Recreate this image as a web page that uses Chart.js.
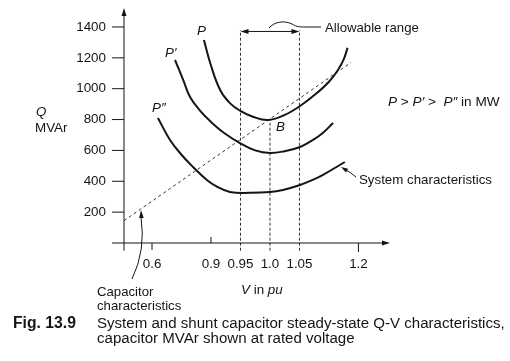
<!DOCTYPE html>
<html>
<head>
<meta charset="utf-8">
<script src="https://cdn.jsdelivr.net/npm/chart.js@4.4.0/dist/chart.umd.min.js"></script>
<style>
  html, body { margin: 0; padding: 0; background: #fff; overflow: hidden; }
  canvas { display: block; }
</style>
</head>
<body>
<canvas id="qv" width="510" height="361"></canvas>
<script>
// V axis is not linear in the figure: 0.6 sits at 0, then one step per 0.05 from 0.9 up
const tickPos = [0, 2, 3, 4, 5, 7];
const tickLabels = ["0.6", "0.9", "0.95", "1.0", "1.05", "1.2"];
const qTicks = [200, 400, 600, 800, 1000, 1200, 1400];

// system characteristics (P > P' > P'')
const pX = [1.76, 2.0, 2.31, 2.65, 2.98, 3.4, 3.93, 4.5, 5.02, 5.55, 6.0, 6.3, 6.5, 6.63];
const pQ = [1316, 1150, 992, 905, 858, 820, 797, 830, 888, 965, 1045, 1120, 1190, 1265];
const p1X = [0.78, 1.05, 1.29, 1.62, 1.97, 2.41, 2.98, 3.5, 4.0, 4.5, 5.02, 5.46, 5.8, 6.14];
const p1Q = [1186, 1060, 946, 860, 790, 718, 648, 600, 583, 595, 622, 668, 715, 778];
const p2X = [0.2, 0.61, 1.0, 1.39, 1.86, 2.2, 2.64, 3.32, 4.0, 4.44, 5.02, 5.4, 5.8, 6.54];
const p2Q = [810, 668, 572, 493, 408, 365, 331, 325, 330, 344, 376, 405, 442, 525];

// capacitor characteristic (straight dashed line)
const capX = [-0.95, 6.75];
const capQ = [145, 1170];

// allowable range limits 0.95 / 1.0 / 1.05
const limitX = [3, 4, 5];
const limitTop = [1380, 800, 1380];
const limitBottom = -50;

const toPts = (xs, ys) => xs.map((x, i) => ({ x: x, y: ys[i] }));

const FONT = '"Liberation Sans", Arial, sans-serif';
const INK = "#151515";

function arrowHead(ctx, x, y, ang, len, half) {
  ctx.save();
  ctx.translate(x, y);
  ctx.rotate(ang);
  ctx.beginPath();
  ctx.moveTo(0, 0);
  ctx.lineTo(-len, -half);
  ctx.lineTo(-len, half);
  ctx.closePath();
  ctx.fill();
  ctx.restore();
}

// draws a run of [text, italic] pieces starting at x
function richText(ctx, x, y, parts, size) {
  parts.forEach(([t, it]) => {
    ctx.font = (it ? "italic " : "") + size + "px " + FONT;
    ctx.fillText(t, x, y);
    x += ctx.measureText(t).width;
  });
}

function fitFont(ctx, text, weight, width) {
  ctx.font = weight + " 14px " + FONT;
  return 14 * width / ctx.measureText(text).width;
}

const decor = {
  id: "decor",
  afterDraw(chart) {
    const ctx = chart.ctx;
    const xs = chart.scales.x, ys = chart.scales.y;
    const X = v => xs.getPixelForValue(v);
    const Y = v => ys.getPixelForValue(v);
    const x0 = X(-0.95), y0 = Y(0);

    ctx.save();
    ctx.strokeStyle = INK;
    ctx.fillStyle = INK;
    ctx.lineWidth = 1;

    // axes
    ctx.beginPath();
    ctx.moveTo(x0, Y(-50));
    ctx.lineTo(x0, chart.chartArea.top + 4);
    ctx.moveTo(x0 - 12, y0);
    ctx.lineTo(chart.chartArea.right - 4, y0);
    ctx.stroke();
    arrowHead(ctx, x0, chart.chartArea.top, -Math.PI / 2, 8, 2.5);
    arrowHead(ctx, chart.chartArea.right, y0, 0, 8, 2.5);

    // Q ticks + labels
    ctx.font = "13.4px " + FONT;
    ctx.textAlign = "right";
    ctx.textBaseline = "middle";
    qTicks.forEach(q => {
      ctx.beginPath();
      ctx.moveTo(x0 - 12, Y(q));
      ctx.lineTo(x0, Y(q));
      ctx.stroke();
      ctx.fillText(String(q), x0 - 18, Y(q));
    });

    // V tick marks (0.6 and 1.2 hang below, 0.9 sits above)
    ctx.beginPath();
    ctx.moveTo(X(0), y0); ctx.lineTo(X(0), y0 + 7);
    ctx.moveTo(X(2), y0); ctx.lineTo(X(2), y0 - 6);
    ctx.moveTo(X(7), y0); ctx.lineTo(X(7), y0 + 9);
    ctx.stroke();

    ctx.textAlign = "center";
    tickPos.forEach((p, i) => ctx.fillText(tickLabels[i], X(p), y0 + 21));

    ctx.textAlign = "left";
    richText(ctx, 241, 290, [["V", true], [" in ", false], ["pu", true]], 13.4);
    richText(ctx, 36, 112, [["Q", true]], 13.4);
    richText(ctx, 35, 128, [["MVAr", false]], 13.4);

    // curve labels
    richText(ctx, 197, 31, [["P", true]], 13.4);
    richText(ctx, 165, 53, [["P\u2032", true]], 13.4);
    richText(ctx, 152, 108, [["P\u2033", true]], 13.4);
    richText(ctx, 276, 127, [["B", true]], 13.4);

    // allowable range arrow
    const ya = Y(1371);
    ctx.beginPath();
    ctx.moveTo(X(3) + 4, ya);
    ctx.lineTo(X(5) - 4, ya);
    ctx.stroke();
    arrowHead(ctx, X(3), ya, Math.PI, 8, 2.5);
    arrowHead(ctx, X(5), ya, 0, 8, 2.5);
    ctx.beginPath();
    ctx.moveTo(269, 28);
    ctx.bezierCurveTo(274, 22, 284, 20, 292, 24);
    ctx.bezierCurveTo(297, 27, 300, 27, 305, 27);
    ctx.lineTo(321, 27);
    ctx.stroke();
    richText(ctx, 325, 28, [["Allowable range", false]], 13.2);

    richText(ctx, 388, 102, [["P", true], [" > ", false], ["P\u2032", true], [" >  ", false],
      ["P\u2033", true], [" in MW", false]], 13.6);

    // system characteristics pointer
    ctx.beginPath();
    ctx.moveTo(356, 177);
    ctx.quadraticCurveTo(350, 172, 346, 170);
    ctx.stroke();
    arrowHead(ctx, 341, 167, Math.atan2(-3, -5), 7, 2.2);
    richText(ctx, 359, 180, [["System characteristics", false]], 13.3);

    // capacitor characteristics pointer
    ctx.beginPath();
    ctx.moveTo(132, 279);
    ctx.quadraticCurveTo(146, 250, 141, 217);
    ctx.stroke();
    arrowHead(ctx, 141, 210, -Math.PI / 2 - 0.05, 8, 2.3);
    richText(ctx, 97, 292, [["Capacitor", false]], 13.2);
    richText(ctx, 97, 306, [["characteristics", false]], 13.2);

    // caption
    const cap1 = "System and shunt capacitor steady-state Q-V characteristics,";
    const cap2 = "capacitor MVAr shown at rated voltage";
    const cs = fitFont(ctx, cap1, "normal", 408);
    const fs = fitFont(ctx, "Fig. 13.9", "bold", 63);
    ctx.font = "bold " + fs + "px " + FONT;
    ctx.fillText("Fig. 13.9", 13, 324);
    ctx.font = cs + "px " + FONT;
    ctx.fillText(cap1, 97, 324);
    ctx.fillText(cap2, 97, 339);

    ctx.restore();
  }
};

const curve = (xs, ys) => ({
  data: toPts(xs, ys),
  borderColor: INK,
  borderWidth: 2,
  tension: 0.4,
  pointRadius: 0,
  fill: false,
  clip: false
});

const limitSets = limitX.map((x, i) => ({
  data: [{ x: x, y: limitBottom }, { x: x, y: limitTop[i] }],
  borderColor: "#333",
  borderWidth: 1,
  borderDash: [3, 2],
  pointRadius: 0,
  fill: false,
  clip: false
}));

new Chart(document.getElementById("qv"), {
  type: "line",
  data: {
    datasets: [
      curve(pX, pQ),
      curve(p1X, p1Q),
      curve(p2X, p2Q),
      {
        data: toPts(capX, capQ),
        borderColor: "#333",
        borderWidth: 1,
        borderDash: [3, 3],
        pointRadius: 0,
        fill: false,
        clip: false
      },
      ...limitSets
    ]
  },
  options: {
    responsive: false,
    animation: false,
    devicePixelRatio: 1,
    layout: { padding: { left: 124, right: 120, top: 8, bottom: 118 } },
    plugins: { legend: { display: false }, tooltip: { enabled: false } },
    scales: {
      x: { type: "linear", min: -0.95, max: 8.07, display: false },
      y: { type: "linear", min: 0, max: 1523, display: false }
    }
  },
  plugins: [decor]
});
</script>
</body>
</html>
